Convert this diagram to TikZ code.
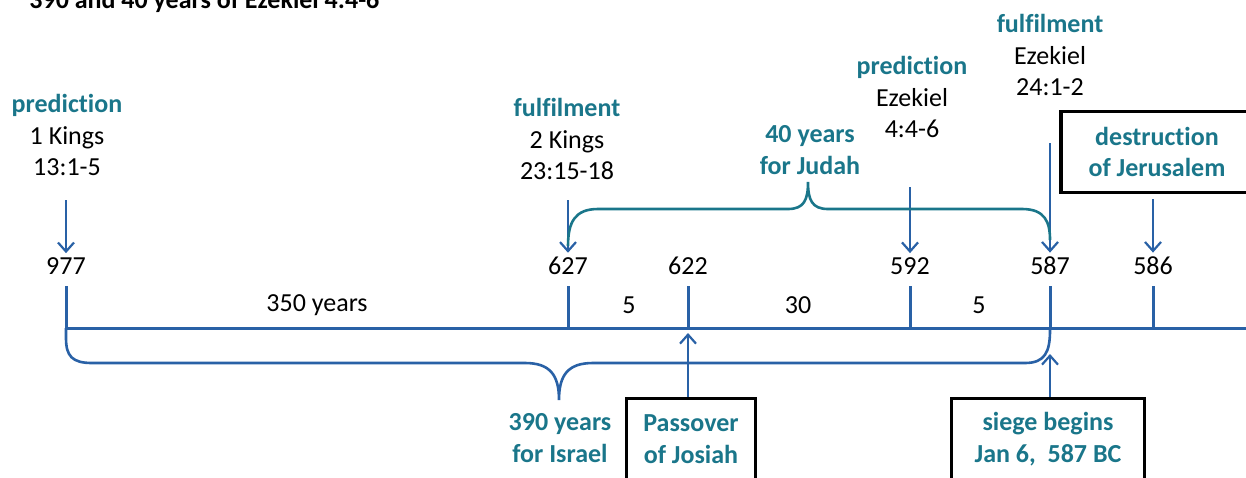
\documentclass[tikz,border=0pt]{standalone}
\usepackage{fontspec}
\setmainfont{Carlito}[Ligatures=NoCommon]
\usepackage{xcolor}
\usepackage{tikz}
\usetikzlibrary{arrows.meta}
\definecolor{tealtext}{RGB}{26,118,138}
\definecolor{lineblue}{RGB}{41,97,166}
\tikzstyle{plain} = [inner sep=2pt, font=\fontsize{13}{15.8}\selectfont]
\tikzstyle{ref} = [align=center, inner sep=0pt, font=\fontsize{13}{15.8}\selectfont]
\tikzstyle{event} = [ref, text=tealtext, font=\fontsize{13}{15.8}\selectfont\bfseries]
\tikzstyle{box} = [event, draw=black, fill=white, line width=1.6pt, minimum height=40.5pt]
\tikzstyle{axis} = [lineblue, line width=1.5pt]
\tikzstyle{arrow} = [lineblue, line width=1.1pt, -{Straight Barb[length=4.5pt,width=8pt]}]
\tikzstyle{brace} = [line width=1.3pt]

\begin{document}
\begin{tikzpicture}[x=0.5pt, y=-0.5pt]
	\useasboundingbox (0,0) rectangle (1246,477);
	\clip (0,0) rectangle (1246,477);
	% title, cut off at the top
	\node (title) [anchor=base west, inner sep=0pt, font=\fontsize{13}{15.8}\selectfont\bfseries] at (29,8) {390 and 40 years of Ezekiel 4:4-6};

	% time line
	\coordinate (start) at (66,328);
	\coordinate (end) at (1246,328);
	\draw [axis] (start) -- (end);
	\draw [axis] (66,286) -- (66,328);
	\draw [axis] (568,286) -- (568,328);
	\draw [axis] (688,286) -- (688,328);
	\draw [axis] (910,286) -- (910,328);
	\draw [axis] (1050,286) -- (1050,328);
	\draw [axis] (1153,286) -- (1153,328);

	\node (y977) [plain] at (66,266) {977};
	\node (y627) [plain] at (568,266) {627};
	\node (y622) [plain] at (688,266) {622};
	\node (y592) [plain] at (910,266) {592};
	\node (y587) [plain] at (1050,266) {587};
	\node (y586) [plain] at (1153,266) {586};

	\node (span350) [plain] at (317,305) {350 years};
	\node (span5a) [plain] at (629,305) {5};
	\node (span30) [plain] at (798,305) {30};
	\node (span5b) [plain] at (979,305) {5};

	% references
	\node (kings1) [ref] at (67,135) {\textcolor{tealtext}{\bfseries prediction}\\1 Kings\\13:1-5};
	\node (kings2) [ref] at (567,139) {\textcolor{tealtext}{\bfseries fulfilment}\\2 Kings\\23:15-18};
	\node (ezek1) [ref] at (912,97) {\textcolor{tealtext}{\bfseries prediction}\\Ezekiel\\4:4-6};
	\node (ezek2) [ref] at (1050,55) {\textcolor{tealtext}{\bfseries fulfilment}\\Ezekiel\\24:1-2};

	\coordinate (a977) at (66,200);
	\coordinate (a627) at (568,200);
	\coordinate (a592) at (910,187);
	\coordinate (a587) at (1050,143);
	\draw [arrow] (a977) -- (y977);
	\draw [arrow] (a627) -- (y627);
	\draw [arrow] (a592) -- (y592);
	\draw [arrow] (a587) -- (y587);

	% 40 years for Judah
	\draw [brace, tealtext] (568,246) .. controls (568,222) and (575,209) .. (598,209) -- (788,209) .. controls (804,209) and (808,200) .. (808,182) .. controls (808,200) and (812,209) .. (828,209) -- (1022,209) .. controls (1045,209) and (1050,222) .. (1050,240);
	\node (judah) [event] at (810,150) {40 years\\for Judah};

	% 390 years for Israel
	\draw [brace, lineblue] (start) -- (66,338) .. controls (66,356) and (72,363) .. (92,363) -- (525,363) .. controls (550,363) and (559,375) .. (559,400) .. controls (559,375) and (568,363) .. (593,363) -- (1025,363) .. controls (1045,363) and (1050,352) .. (1050,330);
	\node (israel) [event] at (560,438) {390 years\\for Israel};

	% boxes
	\node (destr) [box, minimum width=96pt] at (1157,152) {destruction\\of Jerusalem};
	\draw [arrow, shorten <=2.5pt] (destr.south -| y586) -- (y586);
	\node (passover) [box, minimum width=64.5pt] at (691,439) {Passover\\of Josiah};
	\coordinate (b622) at (688,333);
	\draw [arrow] (passover.north -| b622) -- (b622);
	\node (siege) [box, minimum width=96.5pt] at (1048,439) {siege begins\\Jan 6,\ \ 587 BC};
	\coordinate (b587) at (1050,354);
	\draw [arrow] (siege.north -| b587) -- (b587);
\end{tikzpicture}
\end{document}
